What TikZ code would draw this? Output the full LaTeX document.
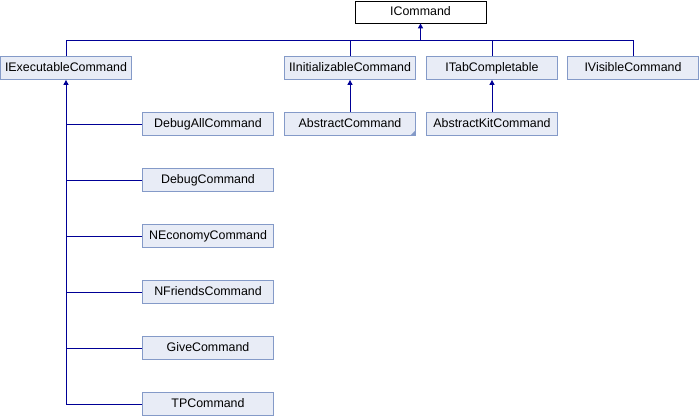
\documentclass[tikz,border=0pt]{standalone}
\usepackage{fontspec}
\setmainfont{Liberation Sans}
\usetikzlibrary{positioning,arrows.meta}
\definecolor{fondoclase}{RGB}{232,236,246}
\definecolor{bordeclase}{RGB}{132,154,200}
\definecolor{azullinea}{RGB}{0,0,150}
\tikzstyle{Clase}=[rectangle, draw=bordeclase, fill=fondoclase, line width=0.8pt, minimum width=131pt, minimum height=23pt, inner sep=0pt, text height=9pt, text depth=3pt, font=\fontsize{12.4}{14}\selectfont]
\tikzstyle{ClaseRaiz}=[Clase, draw=black, fill=white, minimum height=22pt]
\tikzstyle{Linea}=[draw=azullinea, line width=1pt]
\tikzstyle{Flecha}=[Linea, -{Triangle[width=5pt,length=5pt]}]

\begin{document}
\begin{tikzpicture}
			\useasboundingbox (0,0) rectangle (700pt,-416pt);
			%Nodos
			\node[ClaseRaiz]	(icommand)	at (420.5pt,-12pt)	{ICommand};
			\coordinate[below=17pt of icommand]	(bus);

			\node[Clase]	(iexec)	at (66pt,-68pt)	{IExecutableCommand};
			\node[Clase]	(iinit)	[right=152.2pt of iexec]	{IInitializableCommand};
			\node[Clase]	(itab)	[right=10.2pt of iinit]	{ITabCompletable};
			\node[Clase]	(ivis)	[right=9.2pt of itab]	{IVisibleCommand};

			\node[Clase]	(abstractcmd)	[below=32.2pt of iinit]	{AbstractCommand};
			\node[Clase]	(abstractkit)	[below=32.2pt of itab]	{AbstractKitCommand};

			\node[Clase]	(debugall)	[below right=32.2pt and 10.2pt of iexec]	{DebugAllCommand};
			\node[Clase]	(debug)	[below=32.2pt of debugall]	{DebugCommand};
			\node[Clase]	(neconomy)	[below=32.2pt of debug]	{NEconomyCommand};
			\node[Clase]	(nfriends)	[below=32.2pt of neconomy]	{NFriendsCommand};
			\node[Clase]	(give)	[below=32.2pt of nfriends]	{GiveCommand};
			\node[Clase]	(tp)	[below=32.2pt of give]	{TPCommand};

			%esquina doblada
			\fill[bordeclase] (abstractcmd.south east) -- ++(-6pt,0) -- ++(6pt,6pt) -- cycle;

			%Lineas
			\draw[Linea] (iexec.north) |- (bus) -| (ivis.north);
			\draw[Linea] (iinit.north) -- (iinit.north |- bus);
			\draw[Linea] (itab.north) -- (itab.north |- bus);
			\draw[Flecha] (bus) -- (icommand.south);

			\draw[Flecha] (abstractcmd.north) -- (iinit.south);
			\draw[Flecha] (abstractkit.north) -- (itab.south);

			\draw[Flecha] (tp.west) -| (iexec.south);
			\foreach \hijo in {debugall,debug,neconomy,nfriends,give}
				\draw[Linea] (\hijo.west) -- (\hijo.west -| iexec.south);

		\end{tikzpicture}
\end{document}
